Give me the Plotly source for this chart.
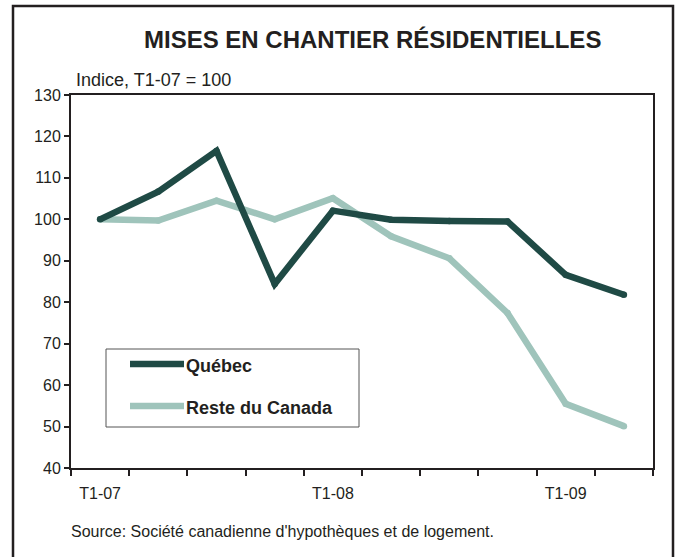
import plotly.graph_objects as go

quarters = ["T1-07", "T2-07", "T3-07", "T4-07", "T1-08", "T2-08", "T3-08", "T4-08", "T1-09", "T2-09"]
tick_labels = ["T1-07", "", "", "", "T1-08", "", "", "", "T1-09", ""]
quebec = [100, 106.7, 116.5, 84.4, 102.1, 99.9, 99.6, 99.5, 86.6, 81.8]
reste = [100, 99.7, 104.5, 100, 105.1, 95.9, 90.6, 77.4, 55.5, 50.1]

W, H = 676, 557
L, R, T, B = 71, 653, 95, 468
FONT = "Liberation Sans, Arial, sans-serif"
INK = "#231f20"
C_Q = "#1f4a45"
C_R = "#9fc4bb"


def px(x):
    return (x - L) / (R - L)


def py(y):
    return (B - y) / (B - T)


fig = go.Figure()
fig.add_trace(go.Scatter(x=quarters, y=reste, mode="lines+markers", name="Reste du Canada",
                         line=dict(color=C_R, width=6.5), marker=dict(color=C_R, size=6.5),
                         showlegend=False))
fig.add_trace(go.Scatter(x=quarters, y=quebec, mode="lines+markers", name="Québec",
                         line=dict(color=C_Q, width=6.5), marker=dict(color=C_Q, size=6.5),
                         showlegend=False))

shapes = [
    # outer frame
    dict(type="rect", xref="paper", yref="paper", x0=px(13), x1=px(673), y0=py(6), y1=py(600),
         line=dict(color=INK, width=2.5), fillcolor="rgba(0,0,0,0)", layer="below"),
    # legend box
    dict(type="rect", xref="paper", yref="paper", x0=px(106), x1=px(359), y0=py(349), y1=py(427),
         line=dict(color="#555555", width=1), fillcolor="white"),
    dict(type="line", xref="paper", yref="paper", x0=px(130), x1=px(184), y0=py(364), y1=py(364),
         line=dict(color=C_Q, width=6.5)),
    dict(type="line", xref="paper", yref="paper", x0=px(130), x1=px(184), y0=py(406), y1=py(406),
         line=dict(color=C_R, width=6.5)),
]

annotations = [
    dict(text="<b>MISES EN CHANTIER RÉSIDENTIELLES</b>", xref="paper", yref="paper",
         x=px(372), y=py(40), xanchor="center", yanchor="middle", showarrow=False,
         font=dict(family=FONT, size=24, color=INK)),
    dict(text="Indice, T1-07 = 100", xref="paper", yref="paper",
         x=px(74), y=py(80), xanchor="left", yanchor="middle", showarrow=False,
         font=dict(family=FONT, size=18, color=INK)),
    dict(text="Source: Société canadienne d'hypothèques et de logement.", xref="paper", yref="paper",
         x=px(69), y=py(531), xanchor="left", yanchor="middle", showarrow=False,
         font=dict(family=FONT, size=16, color=INK)),
    dict(text="<b>Québec</b>", xref="paper", yref="paper",
         x=px(184), y=py(366), xanchor="left", yanchor="middle", showarrow=False,
         font=dict(family=FONT, size=18, color=INK)),
    dict(text="<b>Reste du Canada</b>", xref="paper", yref="paper",
         x=px(184), y=py(408), xanchor="left", yanchor="middle", showarrow=False,
         font=dict(family=FONT, size=18, color=INK)),
]

fig.update_layout(
    width=W, height=H,
    margin=dict(l=L, r=W - R, t=T, b=H - B),
    paper_bgcolor="white", plot_bgcolor="white",
    font=dict(family=FONT, size=16, color=INK),
    shapes=shapes, annotations=annotations,
    showlegend=False,
)
fig.update_xaxes(type="category", categoryorder="array", categoryarray=quarters,
                 range=[-0.5, 9.5], tickmode="array", tickvals=quarters, ticktext=tick_labels,
                 tickson="boundaries", ticks="outside", ticklen=6, tickwidth=2, tickcolor=INK,
                 ticklabelstandoff=10,
                 showline=True, linewidth=2, linecolor=INK, mirror=True, showgrid=False,
                 zeroline=False, tickfont=dict(size=16, color=INK))
fig.update_yaxes(range=[40, 130], dtick=10, tick0=40, ticks="outside", ticklen=5, tickwidth=2,
                 tickcolor=INK, showline=True, linewidth=2, linecolor=INK, mirror=True,
                 showgrid=False, zeroline=False, tickfont=dict(size=16, color=INK))

fig.write_html("out.html", config={"displayModeBar": False},
               post_script="document.body.style.margin='0px';document.body.style.overflow='hidden';")
